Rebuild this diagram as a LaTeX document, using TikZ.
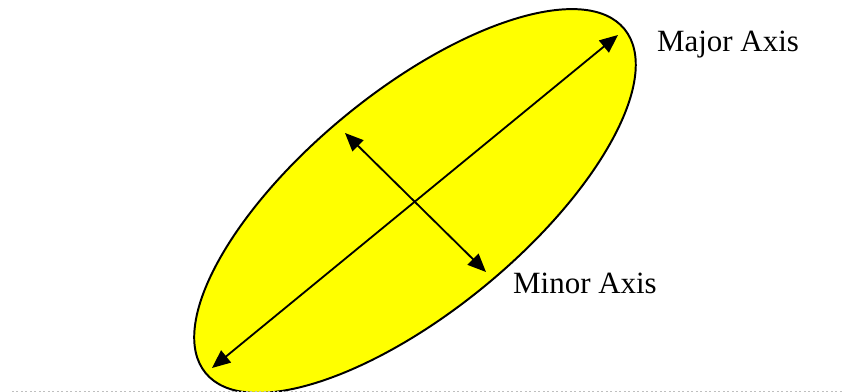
\documentclass[tikz,border=0pt]{standalone}
\usepackage{fontspec}
\setmainfont{Liberation Serif}
\usetikzlibrary{arrows.meta}
\definecolor{AxisFill}{HTML}{FFFF00}

\begin{document}
\begin{tikzpicture}[x=0.025cm,y=0.025cm,>={Triangle[length=13pt,width=11pt]},
  axis/.style={<->,line width=1.3pt},
  lbl/.style={font=\fontsize{22}{26}\selectfont}]
  \useasboundingbox (0,0) rectangle (844,392);
  \coordinate (C) at (415,191);
  \fill[AxisFill,draw=black,line width=1.4pt,rotate around={39.4:(C)}] (C) ellipse [x radius=271,y radius=110];
  \coordinate (majA) at (212,24);
  \coordinate (majB) at (618,357);
  \coordinate (minA) at (345,259);
  \coordinate (minB) at (486,120);
  \draw[axis] (majA) -- (majB);
  \draw[axis] (minA) -- (minB);
  \node[lbl] (major) at (728,347) {Major Axis};
  \node[lbl] (minor) at (585,109) {Minor Axis};
  % bottom rule
  \coordinate (ruleL) at (12,1);
  \coordinate (ruleR) at (843,1);
  \draw[gray!50,line width=0.7pt,dash pattern=on 1.2pt off 2pt] (ruleL) -- (ruleR);
\end{tikzpicture}
\end{document}
